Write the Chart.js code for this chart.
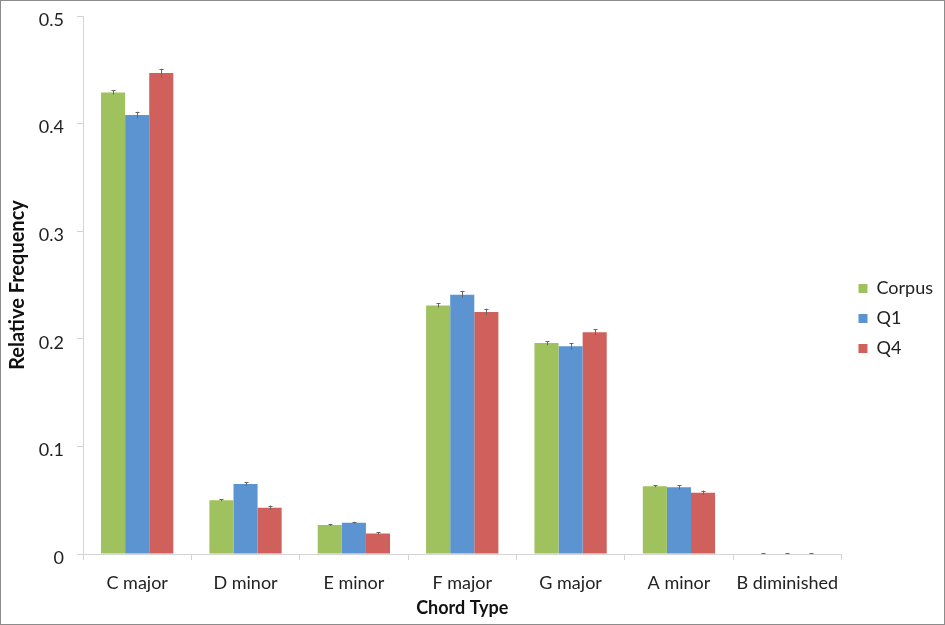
<!DOCTYPE html>
<html>
<head>
<meta charset="utf-8">
<script src="https://cdn.jsdelivr.net/npm/chart.js@4.4.1/dist/chart.umd.min.js"></script>
<style>
  html, body { margin: 0; padding: 0; background: #fff; }
  #wrap { width: 945px; height: 625px; position: relative; }
</style>
</head>
<body>
<div id="wrap"><canvas id="chord-chart"></canvas></div>
<script>
// Chord types on the x axis
const chordTypes = ['C major', 'D minor', 'E minor', 'F major', 'G major', 'A minor', 'B diminished'];

// Relative frequency per series
const corpusValues = [0.429, 0.050, 0.027, 0.231, 0.196, 0.063, 0.0005];
const q1Values     = [0.408, 0.065, 0.029, 0.241, 0.193, 0.062, 0.0005];
const q4Values     = [0.447, 0.043, 0.019, 0.225, 0.206, 0.057, 0.0005];

// Small error bars (half-width)
const corpusErr = [0.002, 0.001, 0.001, 0.002, 0.002, 0.001, 0.0002];
const q1Err     = [0.003, 0.002, 0.001, 0.003, 0.003, 0.002, 0.0002];
const q4Err     = [0.004, 0.002, 0.001, 0.003, 0.003, 0.002, 0.0002];

const yTicks = [0, 0.1, 0.2, 0.3, 0.4, 0.5];

const FONT = 'Lato, "Open Sans", sans-serif';

// draws the little error whiskers on top of each bar
const errorBars = {
    id: 'errorBars',
    afterDatasetsDraw(chart) {
        const { ctx, scales: { y } } = chart;
        ctx.save();
        ctx.strokeStyle = '#666';
        ctx.lineWidth = 1;
        chart.data.datasets.forEach((ds, i) => {
            const meta = chart.getDatasetMeta(i);
            meta.data.forEach((bar, j) => {
                const v = ds.data[j];
                const e = ds.errors[j];
                const top = y.getPixelForValue(v + e);
                const bot = y.getPixelForValue(v - e);
                const x = Math.round(bar.x) + 0.5;
                ctx.beginPath();
                ctx.moveTo(x, top);
                ctx.lineTo(x, bot);
                ctx.moveTo(x - 2, Math.round(top) + 0.5);
                ctx.lineTo(x + 2, Math.round(top) + 0.5);
                ctx.stroke();
            });
        });
        ctx.restore();
    }
};

// nudge the legend items a little (Excel puts them a bit further from the plot)
const legendNudge = {
    id: 'legendNudge',
    afterInit(chart) {
        const lg = chart.legend;
        if (!lg) return;
        const origDraw = lg.draw;
        lg.draw = function () {
            this.ctx.save();
            this.ctx.translate(5, -2);
            origDraw.call(this);
            this.ctx.restore();
        };
    }
};

// thin grey frame around the whole image
const frame = {
    id: 'frame',
    afterDraw(chart) {
        const { ctx, width, height } = chart;
        ctx.save();
        ctx.strokeStyle = '#8c8c8c';
        ctx.lineWidth = 1;
        ctx.strokeRect(0.5, 0.5, width - 1, height - 1);
        ctx.restore();
    }
};

new Chart(document.getElementById('chord-chart'), {
    type: 'bar',
    data: {
        labels: chordTypes,
        datasets: [
            { label: 'Corpus', data: corpusValues, errors: corpusErr, backgroundColor: '#9fc15e' },
            { label: 'Q1', data: q1Values, errors: q1Err, backgroundColor: '#5b94d0' },
            { label: 'Q4', data: q4Values, errors: q4Err, backgroundColor: '#d0605b' }
        ]
    },
    options: {
        responsive: true,
        maintainAspectRatio: false,
        animation: false,
        devicePixelRatio: 1,
        datasets: {
            bar: { categoryPercentage: 0.667, barPercentage: 1.0 }
        },
        layout: { padding: { top: 16, right: 7, bottom: 0, left: 0 } },
        scales: {
            x: {
                afterFit: (axis) => { axis.height = 71; axis.paddingLeft = 0; axis.paddingRight = 0; },
                grid: { drawOnChartArea: false, tickLength: 6, color: '#d4d4d4', offset: true },
                border: { color: '#d4d4d4' },
                ticks: { color: '#222', font: { family: FONT, size: 18 }, padding: 12,
                         maxRotation: 0, minRotation: 0, autoSkip: false },
                title: { display: true, text: 'Chord Type', color: '#111',
                         font: { family: FONT, size: 18, weight: 'bold' }, padding: { top: 0, bottom: 6 } }
            },
            y: {
                min: 0,
                max: 0.5,
                afterFit: (axis) => { axis.width = 83; axis.paddingTop = 0; axis.paddingBottom = 0; },
                afterBuildTicks: (axis) => { axis.ticks = yTicks.map(v => ({ value: v })); },
                grid: { drawOnChartArea: false, tickLength: 6, color: '#d4d4d4' },
                border: { color: '#d4d4d4' },
                ticks: { color: '#222', font: { family: FONT, size: 18 }, padding: 13, labelOffset: 4,
                         callback: (v) => v === 0 ? '0' : String(Math.round(v * 10) / 10) },
                title: { display: true, text: 'Relative Frequency', color: '#111',
                         font: { family: FONT, size: 20, weight: 'bold' }, padding: { top: 6, bottom: 0 } }
            }
        },
        plugins: {
            legend: {
                position: 'right',
                labels: {
                    color: '#222',
                    font: { family: FONT, size: 18 },
                    boxWidth: 9,
                    boxHeight: 9,
                    padding: 12
                }
            },
            tooltip: { enabled: false }
        }
    },
    plugins: [errorBars, legendNudge, frame]
});
</script>
</body>
</html>
